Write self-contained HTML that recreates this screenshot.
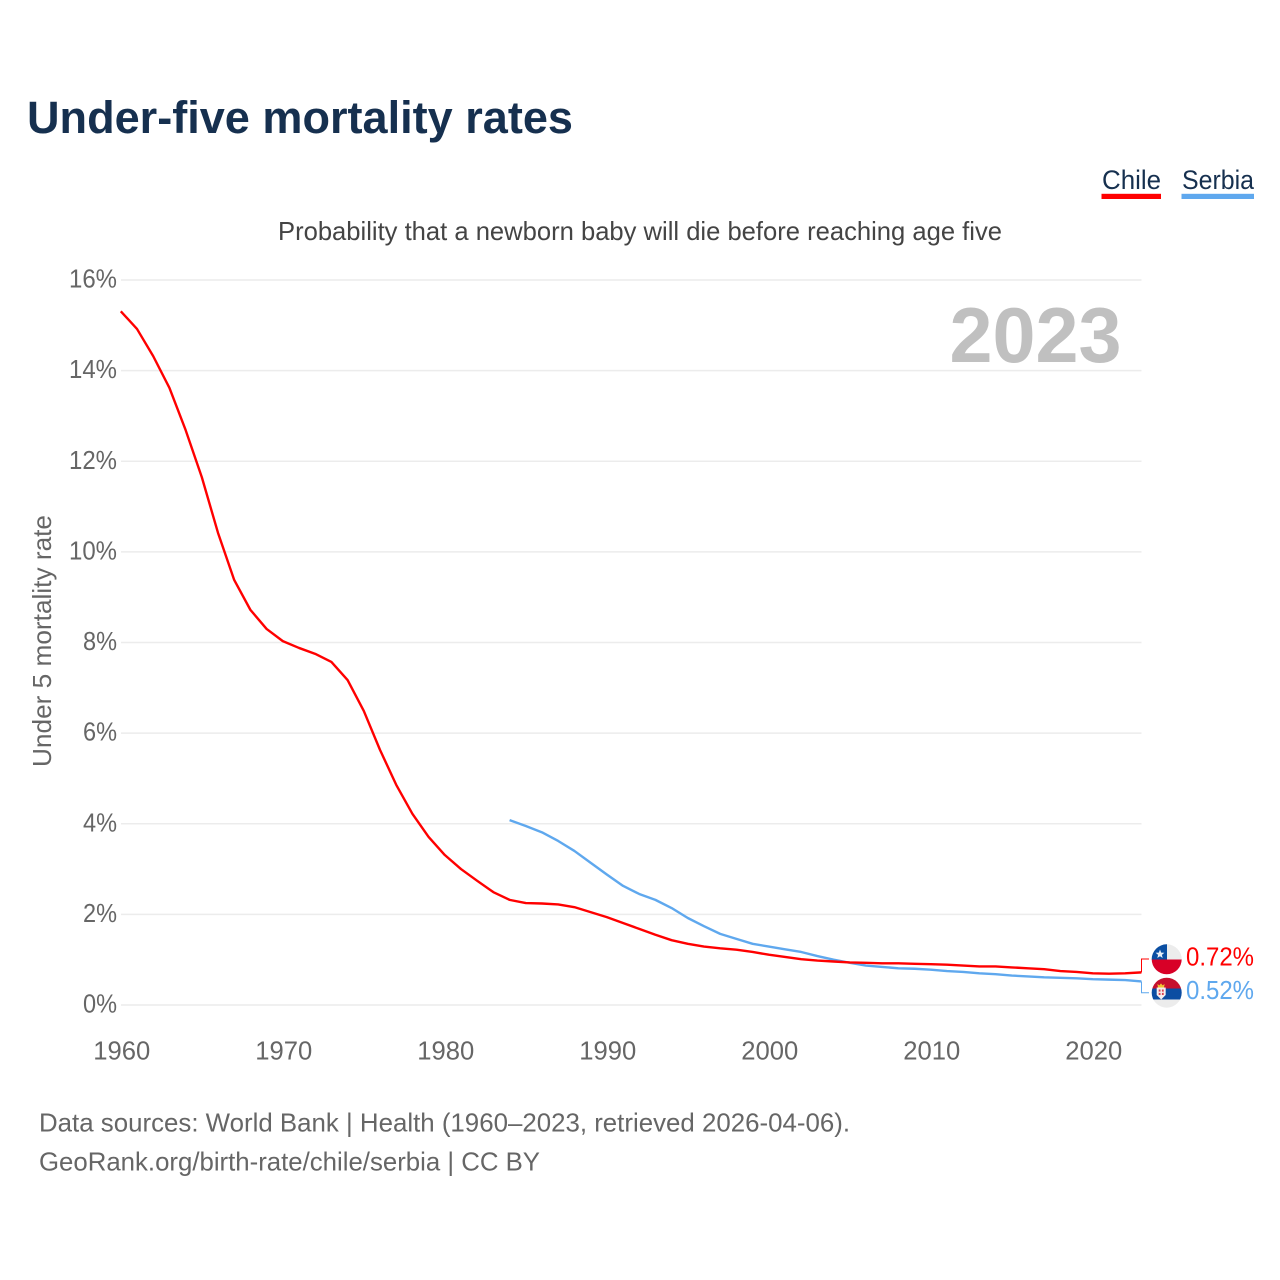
<!DOCTYPE html>
<html lang="en">
<head>
<meta charset="utf-8">
<title>Under-five mortality rates</title>
<style>
html,body{margin:0;padding:0;background:#fff;width:1280px;height:1280px;overflow:hidden}
svg{display:block;font-family:"Liberation Sans",sans-serif}
</style>
</head>
<body>
<svg id="chart" width="1280" height="1280" viewBox="0 0 1280 1280" xmlns="http://www.w3.org/2000/svg">
  <defs>
    <clipPath id="clip-chile"><circle cx="1166.7" cy="959.3" r="15"/></clipPath>
    <clipPath id="clip-serbia"><circle cx="1166.7" cy="992.7" r="15"/></clipPath>
  </defs>
  <rect width="1280" height="1280" fill="#fff"/>
  <text x="27" y="133" font-size="45" font-weight="700" fill="#16304f" textLength="546" lengthAdjust="spacingAndGlyphs">Under-five mortality rates</text>

  <g>
    <text x="1102" y="189" font-size="26.5" fill="#16304f" textLength="59" lengthAdjust="spacingAndGlyphs">Chile</text>
    <rect x="1101.5" y="193.8" width="59.5" height="5.2" fill="#ff0000"/>
  </g>
  <g>
    <text x="1182" y="189" font-size="26.5" fill="#16304f" textLength="72" lengthAdjust="spacingAndGlyphs">Serbia</text>
    <rect x="1181.5" y="193.8" width="72.5" height="5.2" fill="#5fa8ee"/>
  </g>

  <text x="278" y="240" font-size="26" fill="#444" textLength="724" lengthAdjust="spacingAndGlyphs">Probability that a newborn baby will die before reaching age five</text>
  <text transform="translate(51,767) rotate(-90)" font-size="26" fill="#666" textLength="252" lengthAdjust="spacingAndGlyphs">Under 5 mortality rate</text>

  <g id="grid"></g>
  <g id="y-ticks"></g>
  <g id="x-ticks"></g>

  <text x="1121.5" y="362" font-size="77.5" font-weight="700" fill="#c0c0c0" text-anchor="end" textLength="172" lengthAdjust="spacingAndGlyphs">2023</text>

  <g id="series"></g>

  <g>
    <g clip-path="url(#clip-chile)">
      <rect x="1151" y="944" width="32" height="16" fill="#ececec"/>
      <rect x="1151" y="944" width="16" height="15.5" fill="#0a4ea2"/>
      <rect x="1151" y="959.5" width="32" height="16" fill="#d80027"/>
      <polygon points="1160,949.5 1161.2,952.6 1164.4,952.8 1161.9,954.9 1162.7,958 1160,956.3 1157.3,958 1158.1,954.9 1155.6,952.8 1158.8,952.6" fill="#e8eef6"/>
    </g>
    <text x="1186" y="965.5" font-size="26" fill="#ff0000" textLength="68" lengthAdjust="spacingAndGlyphs">0.72%</text>
  </g>
  <g>
    <g clip-path="url(#clip-serbia)">
      <rect x="1151" y="977" width="32" height="11.5" fill="#c6102e"/>
      <rect x="1151" y="988.5" width="32" height="11" fill="#0c4da2"/>
      <rect x="1151" y="999.5" width="32" height="9" fill="#ececec"/>
      <path d="M1158 987.5l-.6-3.5 2 1.4 1.6-2 1.6 2 2-1.4-.6 3.5z" fill="#f0c330"/>
      <path d="M1156.7 987.5h9v7.5l-4.5 4.5-4.5-4.5z" fill="#f6eeee"/>
      <rect x="1158.7" y="989.5" width="5" height="5.5" fill="#d8404f"/>
      <rect x="1160.5" y="989.5" width="1.4" height="5.5" fill="#f6eeee"/>
      <rect x="1158.7" y="991.6" width="5" height="1.3" fill="#f6eeee"/>
    </g>
    <text x="1186" y="999" font-size="26" fill="#5fa8ee" textLength="68" lengthAdjust="spacingAndGlyphs">0.52%</text>
  </g>

  <text x="39" y="1131.7" font-size="26" fill="#666" textLength="811" lengthAdjust="spacingAndGlyphs">Data sources: World Bank | Health (1960–2023, retrieved 2026-04-06).</text>
  <text x="39" y="1170.5" font-size="26" fill="#666" textLength="501" lengthAdjust="spacingAndGlyphs">GeoRank.org/birth-rate/chile/serbia | CC BY</text>
</svg>

<script>
const chileStartYear = 1960;
const serbiaStartYear = 1984;
const chileValues = [15.31,14.92,14.32,13.62,12.69,11.65,10.42,9.38,8.72,8.30,8.03,7.88,7.75,7.57,7.17,6.49,5.63,4.86,4.22,3.71,3.31,3.00,2.74,2.49,2.32,2.25,2.24,2.22,2.16,2.05,1.94,1.81,1.68,1.55,1.43,1.35,1.29,1.25,1.22,1.17,1.11,1.06,1.01,0.98,0.96,0.94,0.93,0.92,0.92,0.91,0.90,0.89,0.87,0.85,0.85,0.83,0.81,0.79,0.75,0.73,0.70,0.69,0.70,0.72];
const serbiaValues = [4.08,3.95,3.81,3.62,3.40,3.14,2.88,2.63,2.45,2.32,2.14,1.92,1.74,1.57,1.46,1.35,1.29,1.23,1.17,1.08,1.00,0.93,0.87,0.84,0.81,0.80,0.78,0.75,0.73,0.70,0.68,0.65,0.63,0.61,0.60,0.59,0.57,0.56,0.55,0.52];
const yTickValues = [0,2,4,6,8,10,12,14,16];
const yTickLabels = ["0%","2%","4%","6%","8%","10%","12%","14%","16%"];
const xTickValues = [1960,1970,1980,1990,2000,2010,2020];
const xTickLabels = ["1960","1970","1980","1990","2000","2010","2020"];

const NS = "http://www.w3.org/2000/svg";
const xScale = year => 120.8 + (year - 1960) * 16.2;
const yScale = value => 1005 - value * (1005 - 280) / 16;
const make = (tag, parent, attrs) => {
  const el = document.createElementNS(NS, tag);
  for (const k in attrs) el.setAttribute(k, attrs[k]);
  parent.appendChild(el);
  return el;
};

const gridG = document.getElementById("grid");
const yG = document.getElementById("y-ticks");
const xG = document.getElementById("x-ticks");
const seriesG = document.getElementById("series");

yTickValues.forEach((v, i) => {
  const line = make("line", gridG, {x1: 121, x2: 1141.5, y1: yScale(v), y2: yScale(v), stroke: "#ececec", "stroke-width": 1.5});
  
  
  const label = make("text", yG, {x: 117, y: yScale(v) + 7.5, "font-size": 26, fill: "#666", "text-anchor": "end", textLength: yTickLabels[i].length === 3 ? 48 : 34, lengthAdjust: "spacingAndGlyphs"});
  
  
  label.textContent = yTickLabels[i];
});

xTickValues.forEach((v, i) => {
  const label = make("text", xG, {x: xScale(v) + 1, y: 1059.5, "font-size": 26, fill: "#666", "text-anchor": "middle", textLength: 57, lengthAdjust: "spacingAndGlyphs"});
  
  
  label.textContent = xTickLabels[i];
});

const toPath = (values, start) => values.map((v, i) => (i ? "L" : "M") + xScale(start + i).toFixed(2) + " " + yScale(v).toFixed(2)).join("");

const serbiaPath = make("path", seriesG, {d: toPath(serbiaValues, serbiaStartYear), fill: "none", stroke: "#5fa8ee", "stroke-width": 2.4, "stroke-linejoin": "round"});


const chilePath = make("path", seriesG, {d: toPath(chileValues, chileStartYear), fill: "none", stroke: "#ff0000", "stroke-width": 2.4, "stroke-linejoin": "round"});



const lastChile = yScale(chileValues[chileValues.length - 1]);
const lastSerbia = yScale(serbiaValues[serbiaValues.length - 1]);
const chileLeader = make("path", seriesG, {d: "M1141.5 " + lastChile + "V959H1149", fill: "none", stroke: "#ff0000", "stroke-width": 1});


const serbiaLeader = make("path", seriesG, {d: "M1141.5 " + lastSerbia + "V992.7H1149", fill: "none", stroke: "#5fa8ee", "stroke-width": 1});


</script>
</body>
</html>
